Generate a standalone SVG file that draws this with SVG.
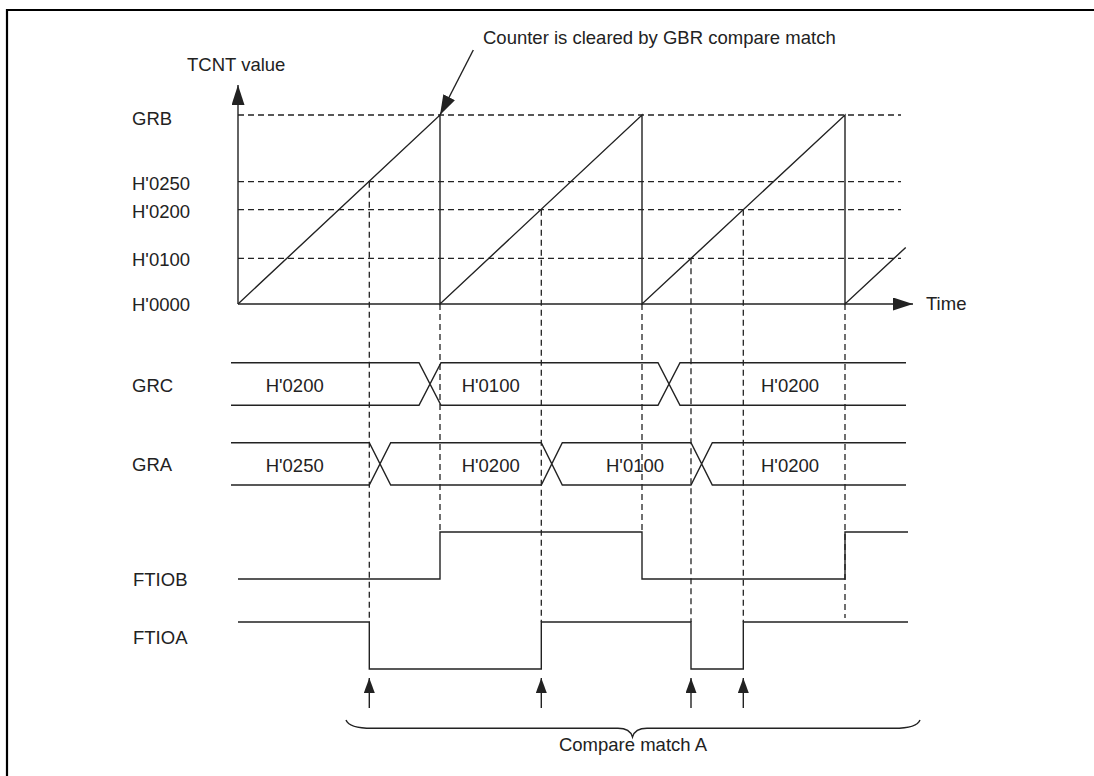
<svg xmlns="http://www.w3.org/2000/svg" width="1094" height="776" viewBox="0 0 1094 776">
<style>
text{font-family:"Liberation Sans",Arial,sans-serif;font-size:18.5px;fill:#222}
.s{fill:none;stroke:#222;stroke-width:1.4}
.d{fill:none;stroke:#222;stroke-width:1.3;stroke-dasharray:6 4}
.f{fill:none;stroke:#000;stroke-width:2.2}
</style>
<defs>
<marker id="ah" markerUnits="userSpaceOnUse" viewBox="0 0 20 13" refX="20" refY="6.5" markerWidth="20" markerHeight="13" orient="auto"><path d="M0,0L20,6.5L0,13z" fill="#222"/></marker>
<marker id="ahs" markerUnits="userSpaceOnUse" viewBox="0 0 15 11" refX="15" refY="5.5" markerWidth="15" markerHeight="11" orient="auto"><path d="M0,0L15,5.5L0,11z" fill="#222"/></marker>
</defs>
<rect width="1094" height="776" fill="#fff"/>
<path class="f" d="M7,776V10H1094"/>

<g id="grid">
<path class="d" d="M238,115H901M238,181.7H901M238,209.7H901M238,258.3H901"/>
<path class="d" d="M369.3,181.7V622M440,304V531.7M541.3,209.7V622M642,304V531.7M691,258.3V622M743.3,209.7V622M845,304V618"/>
</g>

<g id="axes">
<path class="s" d="M238,304V85" marker-end="url(#ah)"/>
<path class="s" d="M238,304H913" marker-end="url(#ah)"/>
<text x="187" y="71">TCNT value</text>
<text x="926" y="310">Time</text>
<text x="132" y="125">GRB</text>
<text x="132" y="189.5">H'0250</text>
<text x="132" y="218">H'0200</text>
<text x="132" y="266">H'0100</text>
<text x="132" y="311">H'0000</text>
</g>

<g id="tcnt">
<path class="s" d="M238,304L440,115V304L642,115V304L845,115V304L905.7,247.5"/>
</g>

<g id="annotation">
<path class="s" d="M473.3,50L440,115" marker-end="url(#ah)"/>
<text x="483" y="43.5">Counter is cleared by GBR compare match</text>
</g>

<g id="grc">
<text x="132" y="391.5">GRC</text>
<path class="s" d="M231,362.7H419L441,405.3H658L680,362.7H906M231,405.3H419L441,362.7H658L680,405.3H906"/>
<text x="265.7" y="391.5">H'0200</text>
<text x="461.7" y="391.5">H'0100</text>
<text x="761" y="391.5">H'0200</text>
</g>

<g id="gra">
<text x="132" y="471">GRA</text>
<path class="s" d="M231,442.7H369.3L390.7,485H541.3L562.3,442.7H691L712.3,485H906M231,485H369.3L390.7,442.7H541.3L562.3,485H691L712.3,442.7H906"/>
<text x="265.7" y="471.5">H'0250</text>
<text x="461.7" y="471.5">H'0200</text>
<text x="606" y="471.5">H'0100</text>
<text x="761" y="471.5">H'0200</text>
</g>

<g id="ftiob">
<text x="133" y="586">FTIOB</text>
<path class="s" d="M238,579H440V532H642V579H845V532H908"/>
</g>

<g id="ftioa">
<text x="133" y="644">FTIOA</text>
<path class="s" d="M238,622H369.3V669H541.3V622H691V669H743.3V622H908"/>
</g>

<g id="compare-match">
<path class="s" d="M369.3,708V678" marker-end="url(#ahs)"/>
<path class="s" d="M541.3,708V678" marker-end="url(#ahs)"/>
<path class="s" d="M691,708V678" marker-end="url(#ahs)"/>
<path class="s" d="M743.3,708V678" marker-end="url(#ahs)"/>
<path class="s" d="M346,720Q349,728.3 372,728.3H618Q630,728.3 632.5,737Q635,728.3 647,728.3H894Q917,728.3 920,720"/>
<text x="633" y="751" text-anchor="middle">Compare match A</text>
</g>
</svg>
